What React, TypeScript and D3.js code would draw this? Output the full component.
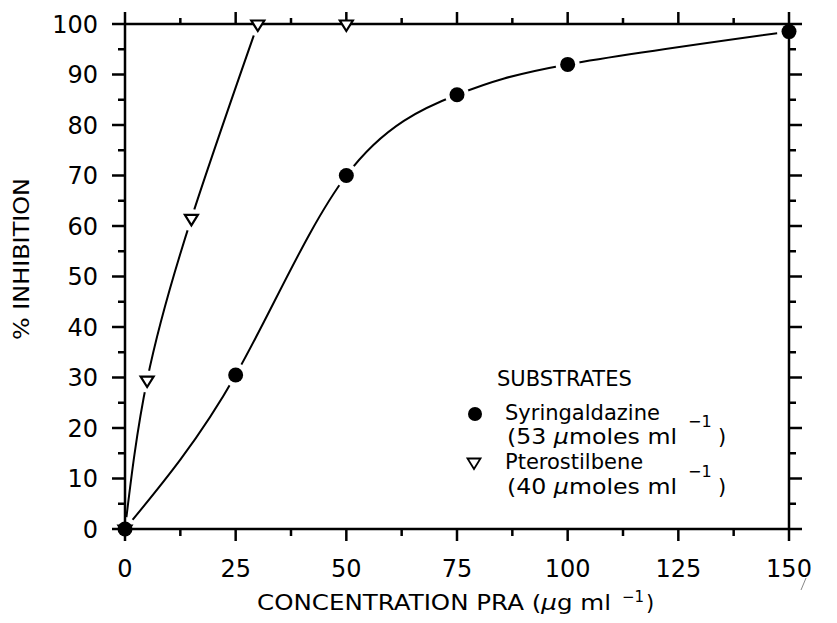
import React from 'react';
import * as d3 from 'd3';

const xTickValues = [0, 25, 50, 75, 100, 125, 150];
const xMinorValues = [12.5, 37.5, 62.5, 87.5, 112.5, 137.5];
const yTickValues = [0, 10, 20, 30, 40, 50, 60, 70, 80, 90, 100];
const yMinorValues = [5, 15, 25, 35, 45, 55, 65, 75, 85, 95];

const syringConc = [0, 25, 50, 75, 100, 150];
const syringInhib = [0, 30.5, 70, 86, 92, 98.5];

const pteroConc = [0, 5, 15, 30, 50];
const pteroInhib = [0, 29.5, 61.5, 100, 100];
const pteroCurvePoints = 4;

const FONT = 'DejaVu Sans, Verdana, sans-serif';

export default function App() {
  const W = 837, H = 623;
  const x = d3.scaleLinear().domain([0, 150]).range([125, 789]);
  const y = d3.scaleLinear().domain([0, 100]).range([529, 24]);

  const syrPts: [number, number][] = syringConc.map((c, i) => [x(c), y(syringInhib[i])]);
  const ptPts: [number, number][] = pteroConc.map((c, i) => [x(c), y(pteroInhib[i])]);

  const line = d3.line().curve(d3.curveNatural);
  const syrPath = line(syrPts) || '';
  const ptPath = line(ptPts.slice(0, pteroCurvePoints)) || '';

  const tri = (cx: number, cy: number) =>
    `M${cx - 6.5},${cy - 3.5}L${cx + 6.5},${cy - 3.5}L${cx},${cy + 7}Z`;

  const x0 = x(0), x1 = x(150), y0 = y(0), y1 = y(100);
  const axisW = 2.5;

  return (
    <svg width={W} height={H} style={{ position: 'absolute', left: 0, top: 0, background: '#fff' }}
      fontFamily={FONT}>
      <rect x={0} y={0} width={W} height={H} fill="#fff" />
      <defs>
        <mask id="gapMask" maskUnits="userSpaceOnUse" x={0} y={0} width={W} height={H}>
          <rect x={0} y={0} width={W} height={H} fill="#fff" />
          {syrPts.map((p, i) => <circle key={'ms' + i} cx={p[0]} cy={p[1]} r={12} fill="#000" />)}
          {ptPts.map((p, i) => <circle key={'mp' + i} cx={p[0]} cy={p[1] + 1.5} r={11} fill="#000" />)}
        </mask>
      </defs>

      {/* frame */}
      <g stroke="#000" strokeWidth={axisW} fill="none">
        <line x1={x0} y1={y0} x2={x1} y2={y0} />
        <line x1={x0} y1={y1} x2={x1} y2={y1} />
        <line x1={x0} y1={y0} x2={x0} y2={y1} />
        <line x1={x1} y1={y0} x2={x1} y2={y1} />
        {xTickValues.map(v => <line key={'bx' + v} x1={x(v)} x2={x(v)} y1={y0} y2={y0 + 12} />)}
        {xMinorValues.map(v => <line key={'bm' + v} x1={x(v)} x2={x(v)} y1={y0} y2={y0 + 7} />)}
        {xTickValues.map(v => <line key={'tx' + v} x1={x(v)} x2={x(v)} y1={y1} y2={y1 - 12} />)}
        {xMinorValues.map(v => <line key={'tm' + v} x1={x(v)} x2={x(v)} y1={y1} y2={y1 - 6} />)}
        {yTickValues.map(v => <line key={'ly' + v} x1={x0} x2={x0 - 13} y1={y(v)} y2={y(v)} />)}
        {yMinorValues.map(v => <line key={'lm' + v} x1={x0} x2={x0 - 7} y1={y(v)} y2={y(v)} />)}
        {yTickValues.map(v => <line key={'ry' + v} x1={x1} x2={x1 + 13} y1={y(v)} y2={y(v)} />)}
        {yMinorValues.map(v => <line key={'rm' + v} x1={x1} x2={x1 + 7} y1={y(v)} y2={y(v)} />)}
      </g>

      {/* tick labels */}
      <g fontSize={24} fill="#000">
        {yTickValues.map(v => (
          <text key={'yl' + v} x={98} y={y(v)} dy="0.36em" textAnchor="end">{v}</text>
        ))}
        {xTickValues.map(v => (
          <text key={'xl' + v} x={x(v)} y={577} textAnchor="middle">{v}</text>
        ))}
      </g>

      {/* axis titles */}
      <text y={610} fontSize={21} fill="#000">
        <tspan x={257} textLength={354} lengthAdjust="spacingAndGlyphs">CONCENTRATION PRA (<tspan fontStyle="italic">μ</tspan>g ml</tspan>
        <tspan x={622} y={602} fontSize={15}>−1</tspan>
        <tspan x={646} y={610}>)</tspan>
      </text>

      <text transform="translate(29,259) rotate(-90)" textAnchor="middle" fontSize={21} fill="#000"
        textLength={162} lengthAdjust="spacingAndGlyphs">
        % INHIBITION
      </text>

      {/* curves */}
      <g mask="url(#gapMask)" stroke="#000" strokeWidth={2} fill="none">
        <path d={syrPath} />
        <path d={ptPath} />
      </g>

      {/* markers */}
      {ptPts.map((p, i) => (
        <path key={'pt' + i} d={tri(p[0], p[1])} fill="#fff" stroke="#000" strokeWidth={2.2} strokeLinejoin="miter" />
      ))}
      {syrPts.map((p, i) => <circle key={'sc' + i} cx={p[0]} cy={p[1]} r={7.5} fill="#000" />)}

      {/* legend */}
      <g fill="#000" fontSize={21}>
        <text x={497} y={386}>SUBSTRATES</text>
        <circle cx={475} cy={414} r={7} />
        <text x={505} y={420}>Syringaldazine</text>
        <text y={444}>
          <tspan x={507} textLength={170} lengthAdjust="spacingAndGlyphs">(53 <tspan fontStyle="italic">μ</tspan>moles ml</tspan>
          <tspan x={688} y={427} fontSize={16}>−1</tspan>
          <tspan x={718} y={444}>)</tspan>
        </text>
        <path d={tri(474, 462)} fill="#fff" stroke="#000" strokeWidth={1.8} />
        <text x={505} y={469}>Pterostilbene</text>
        <text y={494}>
          <tspan x={507} textLength={170} lengthAdjust="spacingAndGlyphs">(40 <tspan fontStyle="italic">μ</tspan>moles ml</tspan>
          <tspan x={688} y={477} fontSize={16}>−1</tspan>
          <tspan x={718} y={494}>)</tspan>
        </text>
      </g>

      <path d="M806,578 L801,590" stroke="#888" strokeWidth={1} />
    </svg>
  );
}
